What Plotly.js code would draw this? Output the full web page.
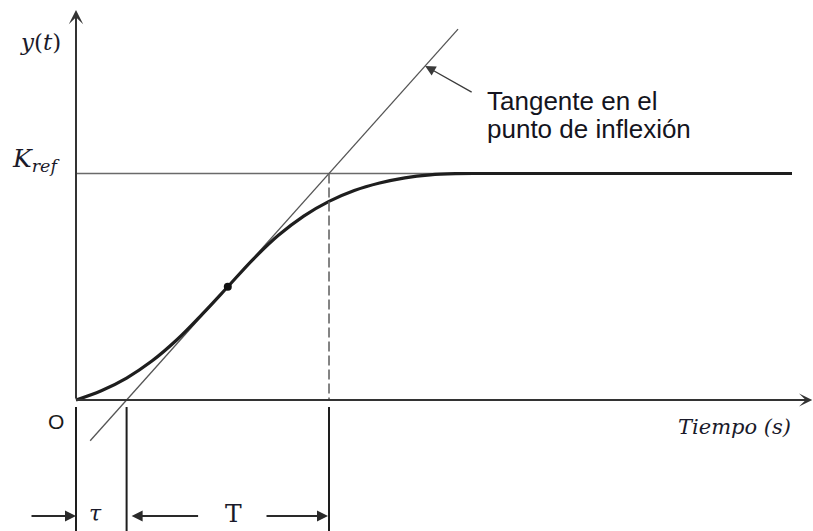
<!DOCTYPE html>
<html>
<head>
<meta charset="utf-8">
<script src="https://cdn.plot.ly/plotly-3.0.1.min.js"></script>
<style>
  html, body { margin: 0; padding: 0; background: #ffffff; }
  #chart { width: 813px; height: 531px; }
</style>
</head>
<body>
<div id="chart"></div>
<script>
// Step response of a first-order-plus-dead-time process (tangent method)
const timeS    = [0, 0.5, 1, 1.5, 2, 2.5, 3, 3.5, 4, 4.5, 5, 5.5, 6, 6.5, 7, 7.5, 8, 10, 14.15];
const response = [0, 0.041, 0.097, 0.172, 0.267, 0.38, 0.5, 0.621, 0.727, 0.812, 0.877, 0.925, 0.958, 0.981, 0.994, 0.999, 1.0, 1.0, 1.0];

const Kref = 1.0;      // final value
const tau  = 1.0;      // dead time
const T    = 4.0;      // time constant
const inflectionT = [3.0];
const inflectionY = [0.5];
const tangentT = [0.28, 7.55];
const krefLineT = [0, 14.15];

const tangentY = tangentT.map(t => Kref * (t - tau) / T);

const ink = '#2a2a2a';
const serif = 'DejaVu Serif, Liberation Serif, serif';
const sans = 'Liberation Sans, Arial, sans-serif';

const traces = [
  { x: krefLineT, y: [Kref, Kref], mode: 'lines', line: { color: '#6a6a6a', width: 1.6 }, hoverinfo: 'skip' },
  { x: tangentT, y: tangentY, mode: 'lines', line: { color: '#555555', width: 1.3 }, hoverinfo: 'skip' },
  { x: timeS, y: response, mode: 'lines', line: { color: '#1e1e1e', width: 3.2, shape: 'spline', smoothing: 1 }, hoverinfo: 'skip' },
  { x: inflectionT, y: inflectionY, mode: 'markers', marker: { color: '#111111', size: 8 }, hoverinfo: 'skip' }
];

const yLow = -0.5784;
const arrowRowY = -0.512;
const ticksBelow = [0, tau, tau + T];

const shapes = [
  // dashed guide from Kref down to the time axis
  { type: 'line', xref: 'x', yref: 'y', x0: tau + T, x1: tau + T, y0: Kref, y1: 0,
    line: { color: '#666666', width: 1.6, dash: '10px,4px' } }
].concat(ticksBelow.map(t => ({
  type: 'line', xref: 'x', yref: 'y', x0: t, x1: t, y0: -0.031, y1: yLow,
  line: { color: '#1e1e1e', width: 2 }
})));

function arrow(x, y, ax, ay, opts) {
  return Object.assign({
    x: x, y: y, ax: ax, ay: ay, xref: 'x', yref: 'y',
    text: '', showarrow: true, arrowcolor: ink, arrowwidth: 2, arrowhead: 2, arrowsize: 1.1
  }, opts || {});
}

const annotations = [
  // axes
  arrow(0, 1.722, 0, 0, { axref: 'x', ayref: 'y', arrowhead: 3, arrowsize: 1.2, arrowcolor: '#333333' }),
  arrow(14.55, 0, -0.03, 0, { axref: 'x', ayref: 'y', arrowhead: 3, arrowsize: 1.1, arrowcolor: '#333333' }),
  // pointer to the tangent line
  arrow(6.9, Kref * (6.9 - tau) / T, 48, 27, { arrowwidth: 1.3, arrowsize: 1.6, arrowcolor: '#3a3a3a' }),
  // dimension arrows for tau and T
  arrow(0, arrowRowY, -46, 0),
  arrow(tau, arrowRowY, 73, 0, { standoff: 5 }),
  arrow(tau + T, arrowRowY, -64, 0, { standoff: 1 }),

  // labels
  { x: 8.083, y: 1.320, xref: 'x', yref: 'y', xanchor: 'left', yanchor: 'middle', showarrow: false,
    text: 'Tangente en el', font: { family: sans, size: 26, color: '#141420' } },
  { x: 8.083, y: 1.196, xref: 'x', yref: 'y', xanchor: 'left', yanchor: 'middle', showarrow: false,
    text: 'punto de inflexión', font: { family: sans, size: 26, color: '#141420' } },
  { x: -0.711, y: 1.581, xref: 'x', yref: 'y', xanchor: 'center', yanchor: 'middle', showarrow: false,
    text: '<i>y</i>(<i>t</i>)', font: { family: serif, size: 23, color: '#1a1a2a' } },
  { x: -0.277, y: 1.06, xref: 'x', yref: 'y', xanchor: 'right', yanchor: 'middle', showarrow: false,
    text: '<i>K<sub>ref</sub></i>', font: { family: serif, size: 25, color: '#1a1a2a' } },
  { x: 14.17, y: -0.119, xref: 'x', yref: 'y', xanchor: 'right', yanchor: 'middle', showarrow: false,
    text: '<i>Tiempo (s)</i>', font: { family: serif, size: 21, color: '#1a1a2a' } },
  { x: -0.405, y: -0.097, xref: 'x', yref: 'y', xanchor: 'center', yanchor: 'middle', showarrow: false,
    text: 'O', font: { family: sans, size: 21, color: '#1a1a1a' } },
  { x: 0.395, y: -0.499, xref: 'x', yref: 'y', xanchor: 'center', yanchor: 'middle', showarrow: false,
    text: '<i>τ</i>', font: { family: serif, size: 22, color: '#1a1a2a' } },
  { x: 3.12, y: -0.503, xref: 'x', yref: 'y', xanchor: 'center', yanchor: 'middle', showarrow: false,
    text: 'T', font: { family: serif, size: 25, color: '#1a1a2a' } }
];

const layout = {
  width: 813, height: 531,
  margin: { l: 0, r: 0, t: 0, b: 0, pad: 0 },
  paper_bgcolor: '#ffffff', plot_bgcolor: '#ffffff',
  showlegend: false,
  xaxis: { range: [-1.502, 14.565], visible: false, fixedrange: true },
  yaxis: { range: [yLow, 1.766], visible: false, fixedrange: true },
  shapes: shapes,
  annotations: annotations
};

Plotly.newPlot('chart', traces, layout, { staticPlot: true, displayModeBar: false });
</script>
</body>
</html>
